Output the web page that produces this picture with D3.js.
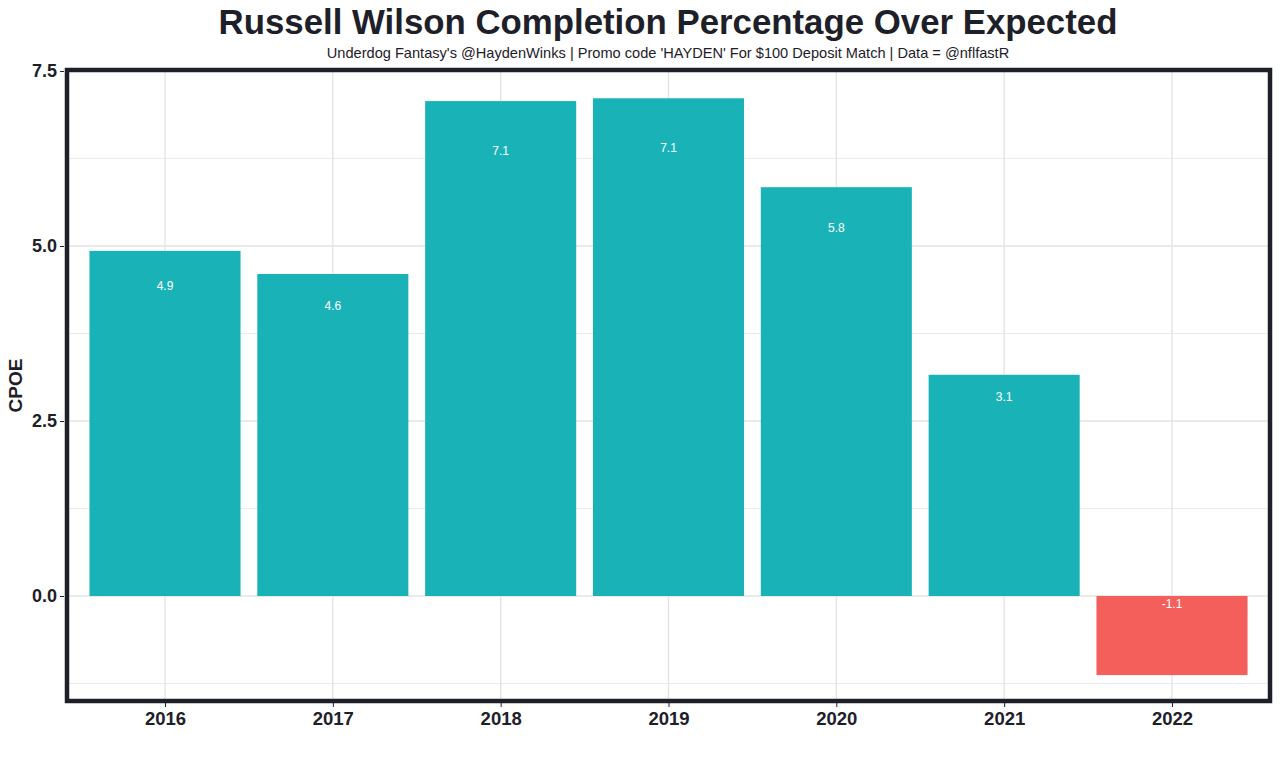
<!DOCTYPE html>
<html lang="en">
<head>
    <meta charset="UTF-8">
    <title>Russell Wilson CPOE</title>
    <script src="https://d3js.org/d3.v7.min.js"></script>
    <style>
        body {
            margin: 0;
            background: #ffffff;
            font-family: 'Liberation Sans', Arial, Helvetica, sans-serif;
        }
        svg { display: block; }
    </style>
</head>
<body>
    <svg id="chart" width="1280" height="759"></svg>
    <script>
        const seasons = ["2016", "2017", "2018", "2019", "2020", "2021", "2022"];
        const cpoe = [4.93, 4.60, 7.07, 7.11, 5.84, 3.16, -1.13];
        const cpoeLabels = ["4.9", "4.6", "7.1", "7.1", "5.8", "3.1", "-1.1"];
        const yTicks = [0, 2.5, 5, 7.5];
        const yMinor = [-1.25, 1.25, 3.75, 6.25];

        const svg = d3.select("#chart");
        const margin = { top: 70, right: 10, bottom: 58, left: 67 };
        const width = 1270 - margin.left;
        const height = 701 - margin.top;
        const g = svg.append("g").attr("transform", `translate(${margin.left},${margin.top})`);

        // panel extends a touch under the thick border
        const x = d3.scalePoint().domain(seasons).range([-2.7, width + 2.7]).padding(0.6);
        const bw = x.step() * 0.9;
        const y = d3.scaleLinear().domain([-1.5, 7.514]).range([height, 0]);

        // grid lines
        g.selectAll(".minor").data(yMinor).join("line")
            .attr("x1", 0).attr("x2", width)
            .attr("y1", d => y(d)).attr("y2", d => y(d))
            .attr("stroke", "#ebebeb").attr("stroke-width", 1);
        g.selectAll(".major").data(yTicks).join("line")
            .attr("x1", 0).attr("x2", width)
            .attr("y1", d => y(d)).attr("y2", d => y(d))
            .attr("stroke", "#e3e3e3").attr("stroke-width", 1.3);
        g.selectAll(".vgrid").data(seasons).join("line")
            .attr("x1", d => x(d)).attr("x2", d => x(d))
            .attr("y1", 0).attr("y2", height)
            .attr("stroke", "#e3e3e3").attr("stroke-width", 1.3);

        const data = seasons.map((s, i) => ({ season: s, value: cpoe[i], label: cpoeLabels[i] }));

        g.selectAll(".bar").data(data).join("rect")
            .attr("x", d => x(d.season) - bw / 2)
            .attr("width", bw)
            .attr("y", d => y(Math.max(0, d.value)))
            .attr("height", d => Math.abs(y(d.value) - y(0)))
            .attr("fill", d => d.value >= 0 ? "#19b3b7" : "#f45f5b");

        g.selectAll(".lbl").data(data).join("text")
            .attr("x", d => x(d.season))
            .attr("y", d => y(d.value >= 0 ? d.value * 0.9 : d.value * 0.1))
            .attr("dy", "0.35em")
            .attr("text-anchor", "middle")
            .attr("fill", "#ffffff")
            .attr("font-size", 12)
            .text(d => d.label);

        // panel border
        g.append("rect")
            .attr("x", 0).attr("y", 0).attr("width", width).attr("height", height)
            .attr("fill", "none").attr("stroke", "#1e2029").attr("stroke-width", 4.5);

        // axes
        const yAxis = g.append("g")
            .attr("transform", "translate(-3,0)")
            .call(d3.axisLeft(y).tickValues(yTicks).tickFormat(d3.format(".1f")).tickSize(4).tickPadding(3));
        yAxis.select(".domain").remove();
        yAxis.selectAll("line").attr("stroke", "#1e2029");
        yAxis.selectAll("text").attr("font-size", 18).attr("font-weight", "bold").attr("fill", "#1e2029")
            .attr("font-family", "'Liberation Sans', Arial, sans-serif");

        const xAxis = g.append("g")
            .attr("transform", `translate(0,${height + 2})`)
            .call(d3.axisBottom(x).tickSize(4).tickPadding(5));
        xAxis.select(".domain").remove();
        xAxis.selectAll("line").attr("stroke", "#1e2029");
        xAxis.selectAll("text").attr("font-size", 18.5).attr("font-weight", "bold").attr("fill", "#1e2029")
            .attr("font-family", "'Liberation Sans', Arial, sans-serif");

        svg.append("text")
            .attr("transform", `translate(22,${margin.top + height / 2}) rotate(-90)`)
            .attr("text-anchor", "middle")
            .attr("font-size", 19).attr("font-weight", "bold").attr("fill", "#1e2029")
            .text("CPOE");

        svg.append("text")
            .attr("x", 668).attr("y", 34)
            .attr("text-anchor", "middle")
            .attr("font-size", 34.8).attr("font-weight", "bold").attr("fill", "#1e2029")
            .text("Russell Wilson Completion Percentage Over Expected");

        svg.append("text")
            .attr("x", 668).attr("y", 58)
            .attr("text-anchor", "middle")
            .attr("font-size", 14.6).attr("fill", "#1e2029")
            .text("Underdog Fantasy's @HaydenWinks | Promo code 'HAYDEN' For $100 Deposit Match | Data = @nflfastR");
    </script>
</body>
</html>
